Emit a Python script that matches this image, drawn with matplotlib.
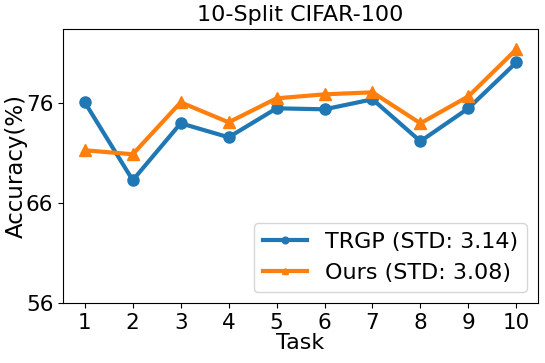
import matplotlib
matplotlib.use("Agg")
import matplotlib.pyplot as plt

tasks = [1, 2, 3, 4, 5, 6, 7, 8, 9, 10]
trgp = [76.1, 68.3, 74.0, 72.6, 75.5, 75.4, 76.4, 72.2, 75.5, 80.1]
ours = [71.3, 70.9, 76.1, 74.1, 76.5, 76.9, 77.1, 74.0, 76.7, 81.4]
yticks = [56, 66, 76]

fig = plt.figure(figsize=(5.45, 3.63), dpi=100)
ax = fig.add_axes([0.116, 0.165, 0.871, 0.754])
ax.plot(tasks, trgp, marker='o', lw=3, ms=8, color='#1f77b4', label='TRGP (STD: 3.14)')
ax.plot(tasks, ours, marker='^', lw=3, ms=8, color='#ff7f0e', label='Ours (STD: 3.08)')
ax.set_ylim(56, 83.4)
ax.set_yticks(yticks)
ax.set_xticks(tasks)
ax.tick_params(labelsize=15.5)
ax.set_xlabel('Task', fontsize=16, labelpad=0)
ax.set_ylabel('Accuracy(%)', fontsize=16.5, labelpad=-1)
ax.set_title('10-Split CIFAR-100', fontsize=16)
ax.legend(loc='lower right', fontsize=16, markerscale=0.6)
fig.savefig('out.png', dpi=100)
